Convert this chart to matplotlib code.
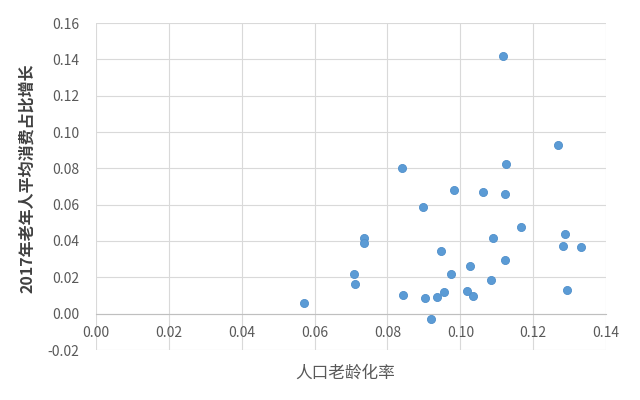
import matplotlib.pyplot as plt

plt.rcParams['font.family'] = ['Noto Sans CJK SC', 'DejaVu Sans']

# 人口老龄化率 vs 2017年老年人平均消费占比增长
aging_rate = [0.0570, 0.0709, 0.0712, 0.0736, 0.0736, 0.0841, 0.0843, 0.0898,
              0.0904, 0.0919, 0.0936, 0.0954, 0.0948, 0.0974, 0.0982, 0.1017,
              0.1035, 0.1027, 0.1063, 0.1083, 0.1091, 0.1117, 0.1126, 0.1122,
              0.1122, 0.1166, 0.1268, 0.1287, 0.1282, 0.1293, 0.1330]
consume_growth = [0.0059, 0.0220, 0.0165, 0.0418, 0.0389, 0.0804, 0.0103, 0.0588,
                  0.0086, -0.0031, 0.0090, 0.0121, 0.0344, 0.0220, 0.0683, 0.0126,
                  0.0095, 0.0260, 0.0671, 0.0183, 0.0416, 0.1420, 0.0826, 0.0661,
                  0.0297, 0.0478, 0.0929, 0.0438, 0.0375, 0.0130, 0.0368]

x_ticks = [0.00, 0.02, 0.04, 0.06, 0.08, 0.10, 0.12, 0.14]
y_ticks = [-0.02, 0.00, 0.02, 0.04, 0.06, 0.08, 0.10, 0.12, 0.14, 0.16]

fig = plt.figure(figsize=(6.4, 4), dpi=100)
ax = fig.add_axes([0.15, 0.125, 0.797, 0.8175])

ax.scatter(aging_rate, consume_growth, s=34, color='#5b9bd5', edgecolors='#4f8fcb',
           linewidths=0.6, zorder=3)

ax.set_xlim(0, 0.14)
ax.set_ylim(-0.02, 0.16)
ax.set_xticks(x_ticks)
ax.set_yticks(y_ticks)
ax.set_xticklabels([f'{v:.2f}' for v in x_ticks])
ax.set_yticklabels([f'{v:.2f}' for v in y_ticks])
ax.grid(True, color='#d9d9d9', linewidth=0.8)
ax.set_axisbelow(True)

for side in ['top', 'right', 'left']:
    ax.spines[side].set_visible(False)
ax.spines['bottom'].set_position(('data', 0))
ax.spines['bottom'].set_color('#bfbfbf')
ax.spines['bottom'].set_linewidth(0.8)

ax.tick_params(axis='both', length=0, labelsize=10, labelcolor='#595959')
ax.tick_params(axis='y', pad=12)
ax.tick_params(axis='x', pad=9)

fig.text(0.540, 0.068, '人口老龄化率', fontsize=12, color='#595959',
         ha='center', va='center')
fig.text(0.042, 0.555, '2017年老年人平均消费占比增长', fontsize=11.5, color='#404040',
         rotation=90, ha='center', va='center', fontweight='bold')

plt.savefig('out.png', dpi=100)
